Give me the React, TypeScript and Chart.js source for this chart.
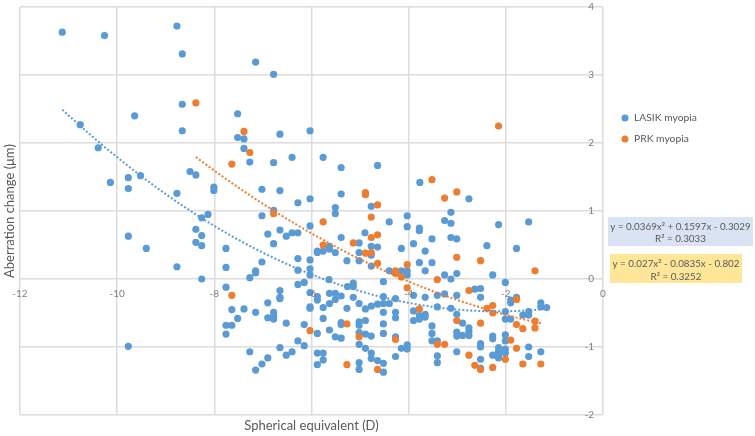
import React, { useEffect, useRef } from "react";
import { Chart, registerables } from "chart.js";
Chart.register(...registerables);

// ---------- data ----------
const lasikPoints: [number, number][] = [
  [-11.13, 3.63], [-10.26, 3.58], [-8.77, 3.72], [-8.66, 3.31], [-7.15, 3.19], [-6.78, 3.01],
  [-8.66, 2.57], [-9.64, 2.40], [-7.52, 2.43], [-10.76, 2.27], [-8.66, 2.18], [-7.52, 2.08], [-7.39, 2.06], [-6.65, 2.13],
  [-10.39, 1.93], [-7.39, 1.92], [-7.27, 1.72], [-6.78, 1.71], [-6.40, 1.79],
  [-10.14, 1.42], [-9.77, 1.49], [-9.52, 1.52], [-9.77, 1.33], [-8.50, 1.58], [-8.38, 1.53], [-8.77, 1.26], [-8.01, 1.35], [-8.01, 1.30], [-7.02, 1.32], [-6.65, 1.30], [-6.28, 1.12],
  [-8.13, 0.95], [-8.26, 0.90], [-7.02, 0.93], [-6.78, 1.01],
  [-8.38, 0.73], [-8.26, 0.64], [-8.38, 0.54], [-8.26, 0.49], [-9.77, 0.63], [-9.40, 0.45], [-8.77, 0.18], [-8.26, 0.00], [-7.76, 0.45], [-7.76, 0.17], [-7.27, 0.02], [-7.15, 0.12], [-7.15, 0.09], [-7.02, 0.25], [-6.90, 0.66], [-6.78, 0.52], [-6.65, 0.72], [-6.52, 0.63], [-6.40, 0.68], [-6.28, 0.68], [-6.28, 0.30], [-6.28, 0.13], [-6.28, -0.08],
  [-7.76, -0.12], [-7.64, -0.45], [-7.39, -0.44], [-7.52, -0.58], [-7.76, -0.68], [-7.64, -0.68], [-7.76, -0.81], [-7.15, -0.49], [-6.90, -0.35], [-6.78, -0.49], [-6.90, -0.57], [-6.78, -0.55], [-6.78, -0.59], [-6.65, -0.17], [-6.65, -0.27], [-6.65, -0.29], [-6.52, -0.65], [-6.28, -0.91], [-6.65, -1.01], [-6.52, -1.12], [-6.40, -1.07], [-7.27, -1.07], [-6.90, -1.16], [-7.02, -1.25], [-7.15, -1.34], [-9.77, -0.99],
  [-6.03, 2.18], [-5.76, 1.79], [-5.39, 1.64], [-4.64, 1.67], [-6.03, 1.18], [-5.39, 1.25], [-5.51, 1.05], [-5.51, 0.96], [-4.77, 1.07], [-4.03, 0.93], [-3.77, 1.42], [-2.76, 1.18], [-3.13, 0.98],
  [-4.40, 0.84], [-6.03, 0.78], [-4.03, 0.77], [-3.78, 0.75], [-3.78, 0.71], [-3.26, 0.86], [-3.13, 0.82], [-2.15, 0.80], [-1.53, 0.84], [-4.90, 0.68], [-5.39, 0.61], [-5.02, 0.53], [-4.77, 0.48], [-4.64, 0.47], [-3.90, 0.52], [-3.52, 0.59], [-3.13, 0.61], [-3.01, 0.59], [-2.39, 0.49], [-1.78, 0.45], [-5.63, 0.48], [-5.63, 0.44], [-5.88, 0.41], [-5.76, 0.41], [-5.88, 0.39], [-5.51, 0.39], [-5.02, 0.39], [-4.77, 0.35], [-4.15, 0.45], [-3.66, 0.41],
  [-6.03, 0.28], [-6.03, 0.15], [-6.03, 0.06], [-5.27, 0.27], [-5.02, 0.27], [-4.77, 0.19], [-3.78, 0.24], [-3.52, 0.24], [-4.15, 0.12], [-4.03, 0.12], [-4.03, 0.06], [-4.40, 0.12], [-3.66, 0.12], [-3.26, 0.06], [-3.01, 0.08], [-3.13, 0.00], [-2.27, 0.06], [-2.01, -0.05],
  [-6.15, -0.05], [-4.52, -0.04], [-4.52, -0.26], [-4.27, -0.29], [-3.90, -0.24], [-3.66, -0.27], [-3.41, -0.24], [-3.26, -0.22], [-3.41, -0.41], [-3.13, -0.43], [-2.64, -0.15], [-2.52, -0.14], [-2.52, -0.27], [-1.90, -0.31], [-1.90, -0.35], [-1.78, -0.27], [-2.01, -0.48], [-2.01, -0.59], [-1.65, -0.53], [-1.53, -0.48], [-1.53, -0.53], [-1.28, -0.35], [-1.28, -0.41], [-1.16, -0.42], [-1.90, -0.59],
  [-1.53, -1.00], [-1.53, -1.14], [-1.28, -1.07], [-2.01, -0.82], [-2.01, -0.91], [-2.15, -1.01], [-2.15, -1.07], [-2.15, -1.13], [-2.15, -1.16], [-2.01, -1.03], [-2.01, -1.09], [-2.27, -0.84], [-2.27, -0.88], [-2.27, -1.12], [-2.52, -0.95], [-2.52, -1.00], [-2.52, -1.18], [-2.52, -1.31],
  [-2.76, -0.72], [-2.76, -0.77], [-2.76, -0.83], [-2.89, -0.83], [-2.89, -0.65], [-3.01, -0.78], [-3.01, -0.84], [-3.01, -0.52], [-3.01, -1.07], [-3.41, -0.91], [-3.41, -1.13], [-3.41, -1.23], [-3.52, -0.69], [-3.52, -0.80], [-3.52, -0.91], [-3.66, -0.52], [-3.66, -0.56], [-3.78, -0.54], [-3.78, -0.59], [-3.90, -0.61], [-3.90, -0.47], [-4.03, -0.97], [-4.03, -1.03], [-4.15, -1.02], [-4.27, -1.14], [-4.27, -0.85], [-4.27, -0.57], [-4.27, -0.49], [-4.52, -0.66], [-4.52, -0.49], [-4.52, -0.36], [-4.64, -0.37], [-4.77, -0.40], [-4.89, -0.44], [-4.40, -0.36], [-5.02, -0.36], [-5.14, -0.27], [-5.27, -0.43], [-5.39, -0.25], [-5.51, -0.30], [-5.63, -0.36], [-5.76, -0.42], [-5.88, -0.26], [-5.88, -0.31], [-5.63, -0.21], [-5.51, -0.21], [-5.76, -0.58], [-5.63, -0.75], [-5.51, -0.85], [-5.39, -0.87], [-5.39, -0.64], [-5.39, -0.67], [-5.02, -0.63], [-5.02, -0.68], [-4.89, -0.61], [-5.02, -0.79], [-4.89, -0.81], [-4.77, -0.84], [-5.02, -0.96], [-4.89, -1.02], [-4.77, -1.09], [-4.77, -1.17], [-4.64, -1.20], [-4.52, -1.24], [-4.52, -1.37], [-5.02, -1.23], [-5.02, -1.33], [-5.76, -1.09], [-5.76, -1.19], [-5.88, -1.09], [-5.88, -1.26], [-5.88, -0.80], [-6.15, -0.67], [-6.15, -0.98], [-6.03, -0.41], [-6.03, -0.43],
  [-6.03, -0.20], [-5.64, -0.01], [-5.26, -0.11], [-5.14, -0.06], [-5.14, -0.11], [-4.52, -0.80], [-3.01, -0.24],
];

const prkPoints: [number, number][] = [
  [-8.38, 2.59], [-7.39, 2.17], [-7.27, 1.86], [-7.64, 1.69], [-6.78, 0.96], [-7.64, -0.24],
  [-4.89, 1.27], [-4.89, 1.24], [-4.64, 1.09], [-4.77, 0.91], [-3.52, 1.46], [-3.26, 1.19], [-3.01, 1.28], [-2.15, 2.25],
  [-5.76, 0.84], [-4.64, 0.65], [-4.77, 0.61], [-5.14, 0.53], [-5.76, 0.50], [-4.89, 0.38], [-4.77, 0.39], [-3.01, 0.32], [-2.52, 0.27], [-1.40, 0.12], [-4.64, 0.23], [-4.03, 0.21], [-4.27, 0.12], [-4.27, 0.08], [-4.15, 0.03], [-3.41, -0.01], [-4.03, -0.13], [-2.76, -0.17], [-2.27, -0.39], [-2.27, -0.50], [-2.39, -0.43], [-1.78, -0.30], [-1.40, -0.62], [-1.40, -0.72], [-1.65, -0.73], [-1.78, -0.67], [-1.28, -1.25], [-1.65, -1.25], [-1.78, -1.02], [-1.90, -0.90], [-2.01, -1.18], [-2.27, -1.30], [-2.52, -0.65], [-2.52, -1.33], [-2.64, -1.27], [-2.76, -1.12], [-3.01, -0.61], [-3.41, -0.96], [-3.26, -0.96], [-3.78, -0.44], [-4.27, -0.89], [-5.27, -0.66], [-5.02, -0.85], [-4.64, -1.33], [-5.27, -1.26], [-6.03, -0.76],
];

// polynomial trendline coefficients [a, b, c] for y = a x^2 + b x + c, as printed on the chart
const lasikTrend = [0.0369, 0.1597, -0.3029];
const prkTrend = [0.027, -0.0835, -0.802];
const lasikEquation = ["y = 0.0369x\u00B2 + 0.1597x - 0.3029", "R\u00B2 = 0.3033"];
const prkEquation = ["y = 0.027x\u00B2 - 0.0835x - 0.802", "R\u00B2 = 0.3252"];

const seriesNames = ["LASIK myopia", "PRK myopia"];
const xTicks = [-12, -10, -8, -6, -4, -2, 0];
const yTicks = [-2, -1, 0, 1, 2, 3, 4];
const xTitle = "Spherical equivalent (D)";
const yTitle = "Aberration change (\u03BCm)";

const BLUE = "#5B9BD5";
const ORANGE = "#ED7D31";
const FONT = "Lato, 'Open Sans', sans-serif";

function trendCurve(coef: number[], pts: [number, number][]) {
  const xs = pts.map((p) => p[0]);
  const lo = Math.min(...xs);
  const hi = Math.max(...xs);
  const out: { x: number; y: number }[] = [];
  const n = 80;
  for (let i = 0; i <= n; i++) {
    const x = lo + ((hi - lo) * i) / n;
    out.push({ x, y: coef[0] * x * x + coef[1] * x + coef[2] });
  }
  return out;
}

const overlay = {
  id: "overlay",
  afterDraw(chart: any) {
    const ctx: CanvasRenderingContext2D = chart.ctx;
    const xs = chart.scales.x;
    const ys = chart.scales.y;
    const area = chart.chartArea;
    ctx.save();
    // tick labels
    ctx.font = `10px ${FONT}`;
    ctx.fillStyle = "#7f7f7f";
    ctx.textBaseline = "middle";
    ctx.textAlign = "center";
    const y0 = ys.getPixelForValue(0);
    xTicks.forEach((v) => ctx.fillText(String(v), xs.getPixelForValue(v), y0 + 15));
    ctx.textAlign = "right";
    const x0 = xs.getPixelForValue(0);
    yTicks.forEach((v) => ctx.fillText(String(v), x0 - 9, ys.getPixelForValue(v)));

    // axis titles
    ctx.fillStyle = "#595959";
    ctx.font = `13px ${FONT}`;
    ctx.textAlign = "center";
    ctx.fillText(xTitle, (area.left + area.right) / 2, 426);
    ctx.save();
    ctx.translate(10, (area.top + area.bottom) / 2);
    ctx.rotate(-Math.PI / 2);
    ctx.fillText(yTitle, 0, 0);
    ctx.restore();

    // legend
    ctx.font = `10.3px ${FONT}`;
    ctx.textAlign = "left";
    const legY = [118, 139];
    [BLUE, ORANGE].forEach((c, i) => {
      ctx.fillStyle = c;
      ctx.beginPath();
      ctx.arc(625, legY[i], 3.5, 0, Math.PI * 2);
      ctx.fill();
      ctx.fillStyle = "#595959";
      ctx.fillText(seriesNames[i], 634, legY[i]);
    });

    // equation boxes
    ctx.fillStyle = "#DAE3F3";
    ctx.fillRect(608, 217, 145, 29);
    ctx.fillStyle = "#FFE699";
    ctx.fillRect(610, 254, 132, 29);
    ctx.fillStyle = "#595959";
    ctx.font = `9.8px ${FONT}`;
    ctx.textAlign = "center";
    ctx.fillText(lasikEquation[0], 680.5, 227);
    ctx.fillText(lasikEquation[1], 680.5, 239);
    ctx.fillText(prkEquation[0], 676, 264);
    ctx.fillText(prkEquation[1], 676, 277);
    ctx.restore();
  },
};

export default function App() {
  const ref = useRef<HTMLCanvasElement | null>(null);
  useEffect(() => {
    if (!ref.current) return;
    const chart = new Chart(ref.current, {
      type: "scatter",
      data: {
        datasets: [
          {
            label: "LASIK trend",
            data: trendCurve(lasikTrend, lasikPoints),
            showLine: true,
            pointRadius: 0,
            borderColor: BLUE,
            borderWidth: 2,
            borderDash: [2, 2],
            order: 0,
          } as any,
          {
            label: "PRK trend",
            data: trendCurve(prkTrend, prkPoints),
            showLine: true,
            pointRadius: 0,
            borderColor: ORANGE,
            borderWidth: 2,
            borderDash: [2, 2],
            order: 0,
          },
          {
            label: seriesNames[1],
            data: prkPoints.map(([x, y]) => ({ x, y })),
            pointRadius: 3.6,
            pointBorderWidth: 0,
            backgroundColor: ORANGE,
            borderColor: ORANGE,
            order: 1,
          },
          {
            label: seriesNames[0],
            data: lasikPoints.map(([x, y]) => ({ x, y })),
            pointRadius: 3.6,
            pointBorderWidth: 0,
            backgroundColor: BLUE,
            borderColor: BLUE,
            order: 2,
          },
        ],
      },
      options: {
        animation: false,
        responsive: false,
        devicePixelRatio: 1,
        layout: { padding: { left: 20, top: 7, right: 152, bottom: 21 } },
        plugins: { legend: { display: false }, tooltip: { enabled: false } },
        scales: {
          x: {
            type: "linear",
            min: -12,
            max: 0,
            ticks: { display: false, stepSize: 2 },
            grid: { color: "#dcdcdc", lineWidth: 1.5, drawTicks: false },
            border: { display: false },
          },
          y: {
            type: "linear",
            min: -2,
            max: 4,
            ticks: { display: false, stepSize: 1 },
            grid: { color: "#dcdcdc", lineWidth: 1.5, drawTicks: false },
            border: { display: false },
          },
        },
      },
      plugins: [overlay],
    });
    return () => chart.destroy();
  }, []);
  return (
    <div style={{ position: "fixed", left: 0, top: 0, width: 755, height: 436, background: "#fff" }}>
      <canvas ref={ref} width={755} height={436} />
    </div>
  );
}
